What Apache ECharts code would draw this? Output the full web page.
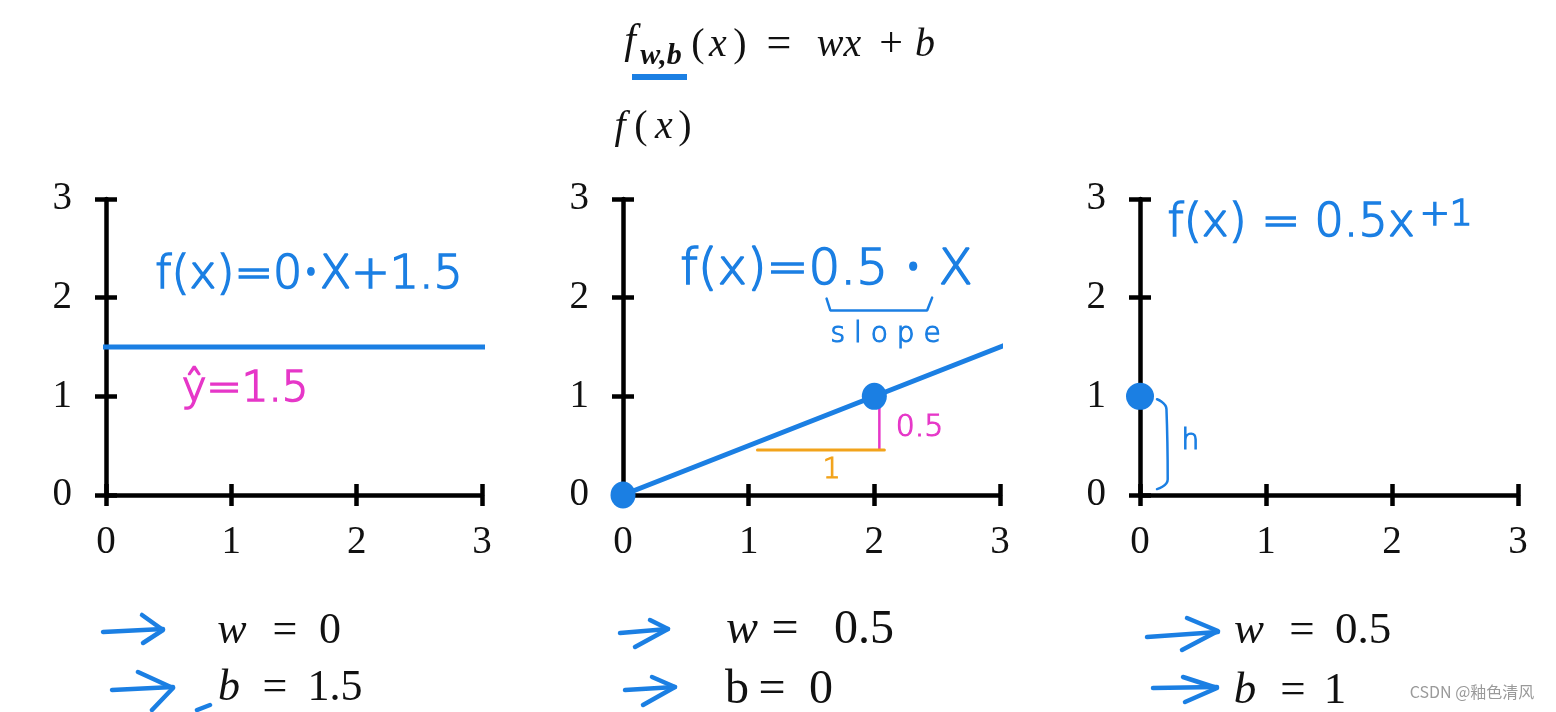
<!DOCTYPE html>
<html><head><meta charset="utf-8">
<script src="https://cdn.jsdelivr.net/npm/echarts@6/dist/echarts.min.js"></script>
<style>html,body{margin:0;padding:0;background:#fff}#c{width:1556px;height:712px}</style>
</head><body><div id="c"></div><script>
// ---- data ----
const tickValues = [0, 1, 2, 3];
const axisMin = 0, axisMax = 3, axisStep = 1;
// panel 1: f(x) = 0*x + 1.5
const line1 = [[-0.17, 1.5], [3.16, 1.5]];
// panel 2: f(x) = 0.5*x
const line2 = [[-0.15, -0.075], [3.08, 1.54]];
const dots2 = [[0, 0], [2, 1]];
const rise2 = [[2.04, 0.47], [2.04, 0.88]];
const run2 = [[1.07, 0.455], [2.08, 0.455]];
const brace2 = [[1.62, 1.99], [1.65, 1.87], [2.42, 1.87], [2.46, 2.0]];
// panel 3: f(x) = 0.5*x + 1
const dots3 = [[0, 1]];
const bracket3 = [[0.135, 0.97], [0.21, 0.87], [0.22, 0.16], [0.135, 0.06]];
// handwritten notes (text, data position)
const notes1 = [{ name: 'f(x)=0•X+1.5', value: [1.62, 2.22] }];
const notesPink1 = [{ name: 'ŷ=1.5', value: [1.11, 1.06] }];
const notes2 = [{ name: 'f(x)=0.5 • X', value: [1.62, 2.27] }];
const slope2 = [{ name: 's l o p e', value: [2.09, 1.62] }];
const notesPink2 = [{ name: '0.5', value: [2.36, 0.68] }];
const notesOrange2 = [{ name: '1', value: [1.66, 0.25] }];
const notes3 = [{ name: 'f(x) = 0.5x', value: [1.2, 2.75] }];
const notesSup3 = [{ name: '+1', value: [2.43, 2.83] }];
const notesH3 = [{ name: 'h', value: [0.4, 0.54] }];

// ---- styles ----
const BLUE = '#1b7fe3', PINK = '#e637c8', ORANGE = '#f2a31b';
const serif = '"Liberation Serif","Times New Roman",serif';
const hand = '"DejaVu Sans","Noto Sans",sans-serif';

const grids = [
  { left: 106, top: 199, width: 376, height: 296 },
  { left: 623, top: 199, width: 377, height: 296 },
  { left: 1140, top: 199, width: 378, height: 296 }
];
const xAxes = [], yAxes = [];
grids.forEach((g, i) => {
  [false, true].forEach(inside => {
    const common = {
      type: 'value', gridIndex: i, min: axisMin, max: axisMax, interval: axisStep,
      axisLine: { show: !inside, onZero: false, lineStyle: { color: '#000', width: 4.5 } },
      axisTick: { show: true, inside: inside, length: 11, lineStyle: { color: '#000', width: 4.5 } },
      splitLine: { show: false }
    };
    xAxes.push(Object.assign({}, common, {
      position: 'bottom',
      axisLabel: { show: !inside, margin: 28, fontSize: 39, fontFamily: serif, color: '#111' }
    }));
    yAxes.push(Object.assign({}, common, {
      position: 'left',
      axisLabel: { show: !inside, margin: 34, fontSize: 39, fontFamily: serif, color: '#111' }
    }));
  });
});

function lineS(i, data, color, width, smooth) {
  return { type: 'line', xAxisIndex: 2 * i, yAxisIndex: 2 * i, data: data, showSymbol: false, symbol: 'none',
    smooth: !!smooth, clip: false, silent: true, lineStyle: { color: color, width: width, cap: 'round' }, z: 5 };
}
function dotS(i, data, size) {
  return { type: 'scatter', xAxisIndex: 2 * i, yAxisIndex: 2 * i, data: data, symbolSize: size, clip: false,
    itemStyle: { color: BLUE, opacity: 1 }, silent: true, z: 6 };
}
function noteS(i, data, color, size, border) {
  return { type: 'scatter', xAxisIndex: 2 * i, yAxisIndex: 2 * i, data: data, symbolSize: 1, clip: false,
    itemStyle: { color: 'rgba(0,0,0,0)', opacity: 1 }, silent: true, z: 7,
    label: { show: true, position: 'inside', formatter: '{b}', color: color, opacity: 1,
      textBorderColor: color, textBorderWidth: border == null ? 1.6 : border,
      fontSize: size, fontFamily: hand, fontWeight: 200 } };
}

function txt(x, y, text, size, opt) {
  opt = opt || {};
  return { type: 'text', x: x, y: y, silent: true,
    style: { text: text, font: (opt.italic ? 'italic ' : '') + (opt.bold ? 'bold ' : '') + size + 'px ' + (opt.family || serif),
      fill: opt.color || '#111', align: opt.align || 'center', verticalAlign: 'middle' } };
}
function arrow(pts) {
  return { type: 'polyline', silent: true, shape: { points: pts },
    style: { stroke: BLUE, lineWidth: 4.5, fill: null, lineCap: 'round', lineJoin: 'round' } };
}

const graphics = [
  // header f_{w,b}(x) = wx + b
  txt(630, 42, 'f', 42, { italic: true }),
  txt(661, 56, 'w,b', 30, { italic: true, bold: true }),
  txt(698, 45, '(', 40), txt(718, 45, 'x', 40, { italic: true }), txt(740, 45, ')', 40),
  txt(779, 45, '=', 44), txt(839, 45, 'wx', 40, { italic: true }), txt(891, 45, '+', 42), txt(925, 45, 'b', 40, { italic: true }),
  { type: 'rect', shape: { x: 632, y: 74, width: 55, height: 6 }, style: { fill: BLUE }, silent: true },
  // f(x) axis title
  txt(620, 127, 'f', 40, { italic: true }), txt(641, 127, '(', 40), txt(664, 127, 'x', 40, { italic: true }), txt(685, 127, ')', 40),
  // bottom parameters
  txt(232, 631, 'w', 44, { italic: true }), txt(285, 631, '=', 44), txt(330, 631, '0', 44),
  txt(229, 688, 'b', 44, { italic: true }), txt(275, 688, '=', 44), txt(335, 688, '1.5', 44),
  txt(742, 630, 'w', 48, { italic: true }), txt(785, 630, '=', 48), txt(864, 630, '0.5', 48),
  txt(737, 690, 'b', 48), txt(772, 690, '=', 48), txt(821, 690, '0', 48),
  txt(1249, 631, 'w', 45, { italic: true }), txt(1302, 631, '=', 45), txt(1363, 631, '0.5', 45),
  txt(1245, 691, 'b', 45, { italic: true }), txt(1293, 691, '=', 45), txt(1335, 691, '1', 45),
  // arrows
  arrow([[103, 632], [163, 629]]), arrow([[142, 615], [163, 630], [143, 643]]),
  arrow([[112, 690], [173, 687]]), arrow([[138, 672], [173, 688], [152, 710]]),
  arrow([[197, 710], [210, 705]]),
  arrow([[620, 633], [668, 629]]), arrow([[650, 620], [668, 629], [635, 647]]),
  arrow([[625, 690], [675, 687]]), arrow([[652, 677], [675, 687], [643, 705]]),
  arrow([[1147, 637], [1218, 632]]), arrow([[1187, 618], [1218, 631], [1182, 650]]),
  arrow([[1153, 688], [1217, 687]]), arrow([[1183, 677], [1217, 688], [1185, 702]]),
  // watermark
  txt(1472, 692, 'CSDN @釉色清风', 16, { family: '"Noto Sans CJK SC","Noto Sans",sans-serif', color: '#9a9a9a' })
];

const chart = echarts.init(document.getElementById('c'), null, { renderer: 'canvas' });
chart.setOption({
  animation: false,
  backgroundColor: '#fff',
  grid: grids,
  xAxis: xAxes,
  yAxis: yAxes,
  series: [
    lineS(0, line1, BLUE, 5),
    noteS(0, notes1, BLUE, 46),
    noteS(0, notesPink1, PINK, 42),
    lineS(1, line2, BLUE, 5),
    dotS(1, dots2, [25, 27]),
    lineS(1, rise2, PINK, 2.5),
    lineS(1, run2, ORANGE, 3),
    lineS(1, brace2, BLUE, 2.5),
    noteS(1, notes2, BLUE, 50),
    noteS(1, slope2, BLUE, 28, 1.2),
    noteS(1, notesPink2, PINK, 30, 1.2),
    noteS(1, notesOrange2, ORANGE, 28, 1.2),
    dotS(2, dots3, [28, 27]),
    lineS(2, bracket3, BLUE, 2.5, true),
    noteS(2, notes3, BLUE, 46),
    noteS(2, notesSup3, BLUE, 36),
    noteS(2, notesH3, BLUE, 28, 1.2)
  ],
  graphic: graphics
});
</script></body></html>
